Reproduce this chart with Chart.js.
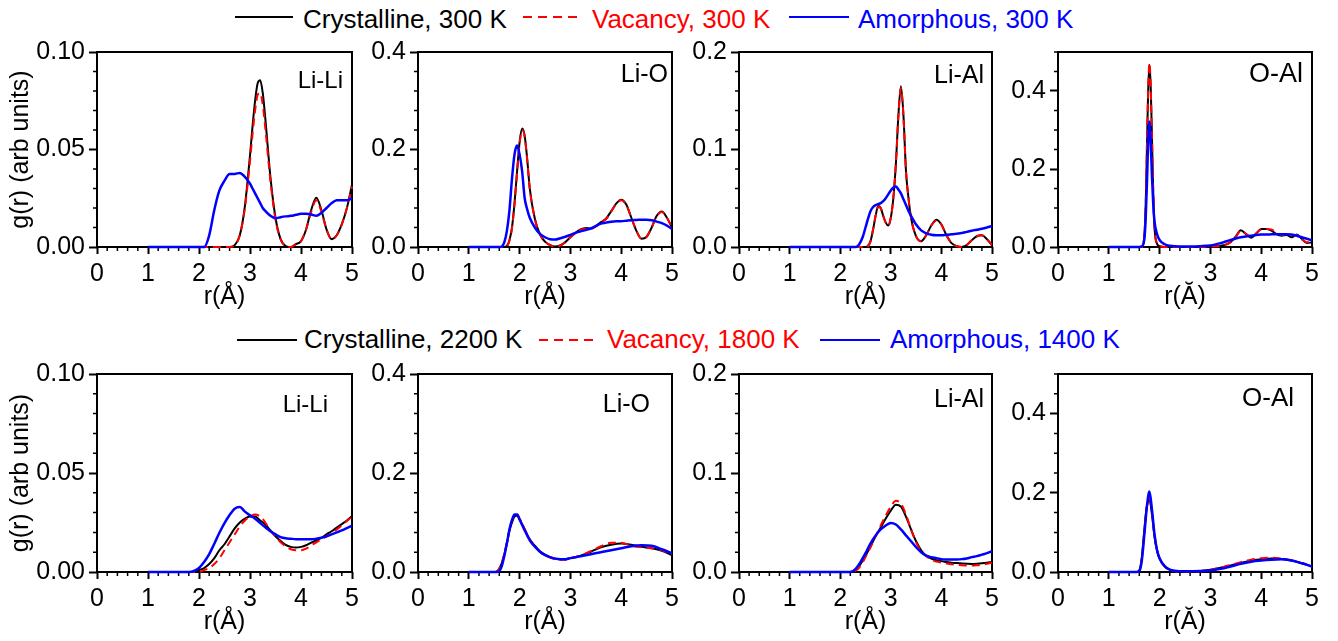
<!DOCTYPE html>
<html>
<head>
<meta charset="utf-8">
<script src="https://cdn.jsdelivr.net/npm/chart.js@4.4.1/dist/chart.umd.min.js"></script>
<style>
  body { margin: 0; background: #fff; width: 1338px; height: 641px; position: relative; overflow: hidden;
         font-family: "Liberation Sans", Arial, sans-serif; }
  canvas { position: absolute; }
  .lg { position: absolute; font-size: 26px; line-height: 26px; white-space: nowrap; }
</style>
</head>
<body>

<!-- legends -->
<svg style="position:absolute;left:0;top:0" width="1338" height="641">
  <line x1="235" y1="17" x2="293" y2="17" stroke="#000" stroke-width="2"/>
  <line x1="523" y1="17" x2="577" y2="17" stroke="#ff0000" stroke-width="2" stroke-dasharray="9 6"/>
  <line x1="789" y1="17" x2="849" y2="17" stroke="#0000ff" stroke-width="2"/>
  <line x1="237" y1="340" x2="297" y2="340" stroke="#000" stroke-width="2"/>
  <line x1="539" y1="340" x2="593" y2="340" stroke="#ff0000" stroke-width="2" stroke-dasharray="9 6"/>
  <line x1="820" y1="340" x2="880" y2="340" stroke="#0000ff" stroke-width="2"/>
</svg>
<div class="lg" style="left:303px;top:6px;color:#000">Crystalline, 300 K</div>
<div class="lg" style="left:592px;top:6px;color:#ff0000">Vacancy, 300 K</div>
<div class="lg" style="left:858px;top:6px;color:#0000ff">Amorphous, 300 K</div>
<div class="lg" style="left:304px;top:326px;color:#000">Crystalline, 2200 K</div>
<div class="lg" style="left:607px;top:326px;color:#ff0000">Vacancy, 1800 K</div>
<div class="lg" style="left:890px;top:326px;color:#0000ff">Amorphous, 1400 K</div>

<script>
// ---- tick labels ----
const xTickVals = [0, 1, 2, 3, 4, 5];
const yTicksLiLi = [0, 0.05, 0.10];
const yLabelsLiLi = ['0.00', '0.05', '0.10'];
const yTicksLiO = [0, 0.2, 0.4];
const yLabelsLiO = ['0.0', '0.2', '0.4'];
const yTicksLiAl = [0, 0.1, 0.2];
const yLabelsLiAl = ['0.0', '0.1', '0.2'];
const yTicksOAl = [0, 0.2, 0.4];
const yLabelsOAl = ['0.0', '0.2', '0.4'];

// ---- 300 K (top row) ----
// Li-Li
const rLiLiA    = [1.0, 2.0, 2.1, 2.2, 2.3, 2.4, 2.5, 2.6, 2.7, 2.8, 2.9, 3.0, 3.05, 3.1, 3.15, 3.2, 3.25, 3.3, 3.4, 3.5, 3.6, 3.7, 3.8, 3.9, 4.0, 4.1, 4.2, 4.3, 4.4, 4.5, 4.6, 4.7, 4.8, 4.9, 5.0];
const crysLiLiA = [0, 0, 0, 0, 0, 0, 0, 0, 0.001, 0.006, 0.021, 0.047, 0.062, 0.075, 0.084, 0.0855, 0.079, 0.066, 0.036, 0.015, 0.004, 0.0005, 0, 0.0015, 0.003, 0.009, 0.019, 0.0253, 0.019, 0.009, 0.004, 0.006, 0.0117, 0.02, 0.032];
const vacLiLiA  = [0, 0, 0, 0, 0, 0, 0, 0, 0.001, 0.006, 0.02, 0.044, 0.058, 0.07, 0.078, 0.079, 0.073, 0.061, 0.034, 0.014, 0.004, 0.0005, 0, 0.0015, 0.003, 0.009, 0.018, 0.024, 0.018, 0.009, 0.004, 0.006, 0.0115, 0.02, 0.031];
const amorLiLiA = [0, 0, 0, 0.006, 0.019, 0.029, 0.034, 0.0375, 0.0375, 0.038, 0.036, 0.0325, 0.03, 0.0275, 0.025, 0.0225, 0.02, 0.0185, 0.016, 0.0148, 0.0153, 0.0157, 0.016, 0.0165, 0.017, 0.017, 0.0167, 0.016, 0.0175, 0.02, 0.0225, 0.024, 0.024, 0.024, 0.025];

// Li-O
const rLiOA    = [1.0, 1.6, 1.65, 1.7, 1.75, 1.8, 1.85, 1.9, 1.95, 2.0, 2.05, 2.1, 2.15, 2.2, 2.3, 2.4, 2.5, 2.6, 2.7, 2.8, 2.9, 3.0, 3.1, 3.2, 3.3, 3.4, 3.5, 3.6, 3.7, 3.8, 3.9, 4.0, 4.1, 4.2, 4.3, 4.4, 4.5, 4.6, 4.7, 4.8, 4.9, 5.0];
const crysLiOA = [0, 0, 0, 0, 0.002, 0.014, 0.04, 0.09, 0.155, 0.215, 0.243, 0.228, 0.18, 0.12, 0.058, 0.026, 0.011, 0.004, 0.001, 0.003, 0.01, 0.02, 0.029, 0.036, 0.039, 0.038, 0.043, 0.051, 0.058, 0.073, 0.089, 0.097, 0.087, 0.06, 0.033, 0.017, 0.021, 0.04, 0.064, 0.073, 0.06, 0.04];
const vacLiOA  = [0, 0, 0, 0, 0.002, 0.013, 0.038, 0.088, 0.152, 0.212, 0.24, 0.226, 0.178, 0.12, 0.058, 0.026, 0.011, 0.004, 0.001, 0.003, 0.01, 0.02, 0.029, 0.035, 0.038, 0.037, 0.042, 0.05, 0.057, 0.072, 0.088, 0.096, 0.086, 0.06, 0.033, 0.017, 0.021, 0.04, 0.063, 0.072, 0.06, 0.04];
const amorLiOA = [0, 0, 0.001, 0.01, 0.033, 0.075, 0.14, 0.19, 0.208, 0.19, 0.155, 0.1, 0.077, 0.06, 0.04, 0.027, 0.02, 0.016, 0.0153, 0.018, 0.021, 0.025, 0.029, 0.032, 0.035, 0.038, 0.043, 0.048, 0.05, 0.052, 0.053, 0.053, 0.054, 0.055, 0.0555, 0.056, 0.056, 0.055, 0.052, 0.049, 0.044, 0.037];

// Li-Al
const rLiAlA    = [1.0, 2.3, 2.35, 2.4, 2.45, 2.5, 2.55, 2.6, 2.65, 2.7, 2.75, 2.8, 2.85, 2.9, 2.95, 3.0, 3.05, 3.1, 3.15, 3.2, 3.25, 3.3, 3.35, 3.4, 3.5, 3.6, 3.7, 3.8, 3.9, 4.0, 4.1, 4.2, 4.3, 4.4, 4.5, 4.6, 4.7, 4.8, 4.9, 5.0];
const crysLiAlA = [0, 0, 0, 0, 0, 0, 0.001, 0.006, 0.018, 0.032, 0.042, 0.04, 0.032, 0.025, 0.022, 0.03, 0.05, 0.085, 0.135, 0.165, 0.135, 0.078, 0.05, 0.03, 0.011, 0.006, 0.012, 0.022, 0.028, 0.023, 0.012, 0.004, 0.001, 0, 0.002, 0.007, 0.011, 0.012, 0.008, 0.002];
const vacLiAlA  = [0, 0, 0, 0, 0, 0, 0.001, 0.006, 0.018, 0.032, 0.041, 0.04, 0.032, 0.025, 0.022, 0.03, 0.05, 0.085, 0.134, 0.163, 0.134, 0.078, 0.05, 0.03, 0.011, 0.006, 0.012, 0.022, 0.027, 0.023, 0.012, 0.004, 0.001, 0, 0.002, 0.007, 0.011, 0.012, 0.008, 0.002];
const amorLiAlA = [0, 0, 0.001, 0.005, 0.011, 0.02, 0.029, 0.037, 0.041, 0.043, 0.044, 0.045, 0.047, 0.05, 0.054, 0.058, 0.061, 0.062, 0.059, 0.055, 0.049, 0.043, 0.037, 0.032, 0.023, 0.017, 0.014, 0.0125, 0.012, 0.012, 0.0125, 0.013, 0.0137, 0.0143, 0.0155, 0.0167, 0.0177, 0.0187, 0.02, 0.0215];

// O-Al
const rOAlA    = [1.0, 1.6, 1.65, 1.7, 1.725, 1.75, 1.775, 1.8, 1.825, 1.85, 1.875, 1.9, 1.95, 2.0, 2.1, 2.2, 2.4, 2.6, 2.8, 3.0, 3.2, 3.3, 3.4, 3.5, 3.6, 3.7, 3.8, 3.9, 4.0, 4.1, 4.2, 4.3, 4.4, 4.5, 4.6, 4.7, 4.8, 4.9, 5.0];
const crysOAlA = [0, 0, 0, 0.03, 0.1, 0.25, 0.4, 0.467, 0.41, 0.28, 0.14, 0.05, 0.008, 0.002, 0, 0, 0, 0, 0, 0.001, 0.003, 0.006, 0.013, 0.027, 0.043, 0.033, 0.024, 0.034, 0.046, 0.046, 0.042, 0.033, 0.029, 0.031, 0.025, 0.032, 0.021, 0.01, 0.012];
const vacOAlA  = [0, 0, 0, 0.03, 0.1, 0.255, 0.405, 0.472, 0.41, 0.28, 0.14, 0.05, 0.008, 0.002, 0, 0, 0, 0, 0, 0.001, 0.003, 0.006, 0.012, 0.026, 0.042, 0.034, 0.026, 0.035, 0.045, 0.046, 0.045, 0.037, 0.031, 0.033, 0.03, 0.03, 0.02, 0.012, 0.013];
const amorOAlA = [0, 0, 0.002, 0.02, 0.07, 0.16, 0.27, 0.322, 0.27, 0.18, 0.11, 0.065, 0.033, 0.018, 0.007, 0.003, 0.001, 0.001, 0.002, 0.004, 0.01, 0.014, 0.018, 0.022, 0.025, 0.027, 0.029, 0.031, 0.032, 0.032, 0.0325, 0.033, 0.033, 0.033, 0.032, 0.029, 0.025, 0.021, 0.017];

// ---- 2200 / 1800 / 1400 K (bottom row) ----
// Li-Li
const rLiLiB    = [1.0, 1.8, 1.9, 2.0, 2.1, 2.2, 2.3, 2.4, 2.5, 2.6, 2.7, 2.8, 2.9, 3.0, 3.1, 3.2, 3.3, 3.4, 3.5, 3.6, 3.7, 3.8, 3.9, 4.0, 4.1, 4.2, 4.3, 4.4, 4.5, 4.6, 4.7, 4.8, 4.9, 5.0];
const crysLiLiB = [0, 0, 0, 0.001, 0.002, 0.004, 0.007, 0.011, 0.014, 0.018, 0.022, 0.025, 0.027, 0.028, 0.028, 0.026, 0.024, 0.021, 0.018, 0.0157, 0.0137, 0.0127, 0.0124, 0.0127, 0.0135, 0.0148, 0.016, 0.0173, 0.019, 0.0206, 0.0224, 0.0242, 0.026, 0.0283];
const vacLiLiB  = [0, 0, 0, 0, 0.001, 0.002, 0.004, 0.007, 0.011, 0.015, 0.019, 0.023, 0.026, 0.028, 0.029, 0.028, 0.025, 0.021, 0.018, 0.015, 0.013, 0.0115, 0.011, 0.011, 0.0118, 0.0135, 0.015, 0.0165, 0.018, 0.0195, 0.0215, 0.0235, 0.0258, 0.028];
const amorLiLiB = [0, 0, 0.0005, 0.002, 0.005, 0.009, 0.0143, 0.0198, 0.0247, 0.0288, 0.032, 0.0328, 0.0305, 0.0286, 0.0269, 0.0247, 0.0226, 0.0206, 0.019, 0.0176, 0.017, 0.0168, 0.0166, 0.0165, 0.0165, 0.0165, 0.0168, 0.0173, 0.018, 0.019, 0.02, 0.021, 0.0222, 0.0234];

// Li-O
const rLiOB    = [1.0, 1.5, 1.55, 1.6, 1.65, 1.7, 1.75, 1.8, 1.85, 1.9, 1.95, 2.0, 2.1, 2.2, 2.3, 2.4, 2.5, 2.6, 2.7, 2.8, 2.9, 3.0, 3.2, 3.4, 3.6, 3.8, 4.0, 4.2, 4.4, 4.6, 4.8, 5.0];
const crysLiOB = [0, 0, 0.001, 0.007, 0.018, 0.036, 0.058, 0.083, 0.1, 0.112, 0.114, 0.106, 0.086, 0.066, 0.053, 0.042, 0.035, 0.03, 0.027, 0.026, 0.026, 0.028, 0.033, 0.041, 0.05, 0.055, 0.0575, 0.055, 0.051, 0.048, 0.043, 0.034];
const vacLiOB  = [0, 0, 0.001, 0.007, 0.019, 0.037, 0.06, 0.086, 0.104, 0.115, 0.117, 0.108, 0.087, 0.066, 0.052, 0.041, 0.034, 0.029, 0.026, 0.025, 0.025, 0.027, 0.033, 0.042, 0.052, 0.059, 0.059, 0.053, 0.05, 0.048, 0.044, 0.036];
const amorLiOB = [0, 0, 0, 0.002, 0.012, 0.033, 0.058, 0.086, 0.105, 0.116, 0.116, 0.106, 0.084, 0.064, 0.051, 0.041, 0.034, 0.03, 0.027, 0.026, 0.026, 0.028, 0.032, 0.036, 0.04, 0.044, 0.048, 0.052, 0.054, 0.053, 0.046, 0.038];

// Li-Al
const rLiAlB    = [1.0, 2.2, 2.3, 2.4, 2.5, 2.6, 2.7, 2.8, 2.9, 3.0, 3.1, 3.2, 3.3, 3.4, 3.5, 3.6, 3.7, 3.8, 3.9, 4.0, 4.1, 4.2, 4.3, 4.4, 4.5, 4.6, 4.7, 4.8, 4.9, 5.0];
const crysLiAlB = [0, 0, 0.002, 0.008, 0.0165, 0.026, 0.036, 0.045, 0.054, 0.062, 0.068, 0.066, 0.056, 0.043, 0.031, 0.022, 0.0165, 0.0135, 0.012, 0.011, 0.0102, 0.0094, 0.009, 0.0087, 0.0084, 0.0082, 0.0084, 0.0088, 0.0094, 0.0102];
const vacLiAlB  = [0, 0, 0.001, 0.006, 0.015, 0.025, 0.036, 0.047, 0.057, 0.066, 0.072, 0.069, 0.058, 0.043, 0.03, 0.021, 0.016, 0.0125, 0.0105, 0.0095, 0.0085, 0.0078, 0.0072, 0.0068, 0.0066, 0.0066, 0.0068, 0.0073, 0.0082, 0.0095];
const amorLiAlB = [0, 0, 0.003, 0.01, 0.019, 0.029, 0.037, 0.043, 0.047, 0.0496, 0.048, 0.043, 0.037, 0.031, 0.025, 0.02, 0.0165, 0.015, 0.014, 0.013, 0.0127, 0.0126, 0.0127, 0.013, 0.0137, 0.015, 0.016, 0.0175, 0.019, 0.021];

// O-Al
const rOAlB    = [1.0, 1.55, 1.6, 1.65, 1.7, 1.75, 1.8, 1.85, 1.9, 1.95, 2.0, 2.1, 2.2, 2.3, 2.5, 2.8, 3.0, 3.2, 3.4, 3.6, 3.8, 4.0, 4.2, 4.4, 4.6, 4.8, 5.0];
const crysOAlB = [0, 0, 0.004, 0.037, 0.108, 0.166, 0.182, 0.145, 0.089, 0.054, 0.033, 0.014, 0.006, 0.0025, 0.001, 0.0025, 0.006, 0.011, 0.0166, 0.023, 0.029, 0.032, 0.034, 0.033, 0.029, 0.022, 0.014];
const vacOAlB  = [0, 0, 0.003, 0.033, 0.103, 0.165, 0.186, 0.15, 0.092, 0.055, 0.033, 0.014, 0.006, 0.002, 0.001, 0.002, 0.005, 0.011, 0.018, 0.025, 0.031, 0.035, 0.036, 0.034, 0.029, 0.022, 0.014];
const amorOAlB = [0, 0, 0.002, 0.029, 0.095, 0.166, 0.203, 0.157, 0.095, 0.055, 0.035, 0.015, 0.006, 0.003, 0.0017, 0.0025, 0.004, 0.008, 0.014, 0.021, 0.026, 0.029, 0.031, 0.032, 0.029, 0.022, 0.014];

const FONT = '"Liberation Sans", Arial, sans-serif';
Chart.defaults.font.family = FONT;
Chart.defaults.color = '#000';

// frame box and minor ticks go under the curves, the panel name on top
const framePlugin = {
  id: 'frame',
  beforeDatasetsDraw(chart, args, o) {
    const ctx = chart.ctx, a = chart.chartArea;
    const xs = chart.scales.x, ys = chart.scales.y;
    ctx.save();
    ctx.strokeStyle = '#000';
    ctx.lineWidth = 1.5;
    ctx.beginPath();
    for (let i = 0; i <= o.xCount; i++) {
      if (i % o.xEvery === 0) continue;
      const px = xs.getPixelForValue(i * o.xMinor);
      ctx.moveTo(px, a.bottom);
      ctx.lineTo(px, a.bottom + 4);
    }
    for (let i = 0; i <= o.yCount; i++) {
      if (i % o.yEvery === 0) continue;
      const py = ys.getPixelForValue(i * o.yMinor);
      ctx.moveTo(a.left, py);
      ctx.lineTo(a.left - 4, py);
    }
    ctx.stroke();
    ctx.lineWidth = 2;
    ctx.strokeRect(a.left, a.top, a.right - a.left, a.bottom - a.top);
    ctx.restore();
  },
  afterDraw(chart, args, o) {
    const ctx = chart.ctx, a = chart.chartArea;
    ctx.save();
    ctx.font = o.size + 'px ' + FONT;
    ctx.fillStyle = '#000';
    ctx.textAlign = 'right';
    ctx.textBaseline = 'alphabetic';
    ctx.fillText(o.label, a.right - o.dx, a.top + o.dy);
    ctx.restore();
  }
};

const panels = [
  { r: rLiLiA, crys: crysLiLiA, vac: vacLiLiA, amor: amorLiLiA, yMax: 0.1, yTicks: yTicksLiLi, yLabels: yLabelsLiLi,
    yMinor: 0.01, yEvery: 5, label: 'Li-Li', dx: 9, dy: 36, size: 24, xTitle: 'r(Å)', first: true,
    left: 97, top: 47, w: 255, h: 200 },
  { r: rLiOA, crys: crysLiOA, vac: vacLiOA, amor: amorLiOA, yMax: 0.4, yTicks: yTicksLiO, yLabels: yLabelsLiO,
    yMinor: 0.04, yEvery: 5, label: 'Li-O', dx: 4, dy: 30, size: 25, xTitle: 'r(Å)',
    left: 418, top: 47, w: 254, h: 200 },
  { r: rLiAlA, crys: crysLiAlA, vac: vacLiAlA, amor: amorLiAlA, yMax: 0.2, yTicks: yTicksLiAl, yLabels: yLabelsLiAl,
    yMinor: 0.02, yEvery: 5, label: 'Li-Al', dx: 8, dy: 31, size: 25, xTitle: 'r(Å)',
    left: 739, top: 47, w: 253, h: 200 },
  { r: rOAlA, crys: crysOAlA, vac: vacOAlA, amor: amorOAlA, yMax: 0.5, yTicks: yTicksOAl, yLabels: yLabelsOAl,
    yMinor: 0.05, yEvery: 4, label: 'O-Al', dx: 9, dy: 30, size: 27, xTitle: 'r(Ă)',
    left: 1058, top: 47, w: 254, h: 200 },
  { r: rLiLiB, crys: crysLiLiB, vac: vacLiLiB, amor: amorLiLiB, yMax: 0.1, yTicks: yTicksLiLi, yLabels: yLabelsLiLi,
    yMinor: 0.01, yEvery: 5, label: 'Li-Li', dx: 24, dy: 38, size: 24, xTitle: 'r(Å)', first: true,
    left: 97, top: 369, w: 255, h: 203 },
  { r: rLiOB, crys: crysLiOB, vac: vacLiOB, amor: amorLiOB, yMax: 0.4, yTicks: yTicksLiO, yLabels: yLabelsLiO,
    yMinor: 0.04, yEvery: 5, label: 'Li-O', dx: 22, dy: 38, size: 25, xTitle: 'r(Å)',
    left: 418, top: 369, w: 254, h: 203 },
  { r: rLiAlB, crys: crysLiAlB, vac: vacLiAlB, amor: amorLiAlB, yMax: 0.2, yTicks: yTicksLiAl, yLabels: yLabelsLiAl,
    yMinor: 0.02, yEvery: 5, label: 'Li-Al', dx: 8, dy: 33, size: 25, xTitle: 'r(Å)',
    left: 739, top: 369, w: 253, h: 203 },
  { r: rOAlB, crys: crysOAlB, vac: vacOAlB, amor: amorOAlB, yMax: 0.5, yTicks: yTicksOAl, yLabels: yLabelsOAl,
    yMinor: 0.05, yEvery: 4, label: 'O-Al', dx: 18, dy: 32, size: 26, xTitle: 'r(Ă)',
    left: 1058, top: 369, w: 254, h: 203 }
];

function addPanel(p) {
  const pt = 14, pr = 14, xh = 70;
  const yw = p.first ? p.left : 70;
  const cv = document.createElement('canvas');
  cv.width = yw + p.w + pr;
  cv.height = pt + p.h + xh;
  cv.style.left = (p.left - yw) + 'px';
  cv.style.top = (p.top - pt) + 'px';
  document.body.appendChild(cv);

  const pts = vals => p.r.map((x, i) => ({ x: x, y: vals[i] }));

  new Chart(cv, {
    type: 'line',
    data: {
      datasets: [
        { label: 'Amorphous', data: pts(p.amor), borderColor: '#0000ff', borderWidth: 2.5, order: 1, clip: 4 },
        { label: 'Vacancy', data: pts(p.vac), borderColor: '#ff0000', borderWidth: 2, borderDash: [8, 5], order: 2, clip: 4 },
        { label: 'Crystalline', data: pts(p.crys), borderColor: '#000000', borderWidth: 2, order: 3, clip: 4 }
      ]
    },
    options: {
      responsive: false,
      devicePixelRatio: 1,
      animation: false,
      layout: { padding: { top: pt, right: pr, left: 0, bottom: 0 } },
      elements: {
        point: { radius: 0 },
        line: { cubicInterpolationMode: 'monotone', fill: false }
      },
      plugins: {
        legend: { display: false },
        tooltip: { enabled: false },
        frame: { xMinor: 0.2, xCount: 25, xEvery: 5, yMinor: p.yMinor, yCount: Math.round(p.yMax / p.yMinor),
                 yEvery: p.yEvery, label: p.label, dx: p.dx, dy: p.dy, size: p.size }
      },
      scales: {
        x: {
          type: 'linear', min: 0, max: 5,
          afterBuildTicks: s => { s.ticks = xTickVals.map(v => ({ value: v })); },
          afterFit: s => { s.height = xh; },
          ticks: { font: { size: 25 }, color: '#000', padding: 5, maxRotation: 0, autoSkip: false,
                   callback: (v, i) => String(xTickVals[i]) },
          grid: { drawOnChartArea: false, tickLength: 7, tickWidth: 2, tickColor: '#000' },
          border: { display: false },
          title: { display: true, text: p.xTitle, font: { size: 25 }, color: '#000', padding: { top: 0, bottom: 5 } }
        },
        y: {
          type: 'linear', min: 0, max: p.yMax,
          afterBuildTicks: s => { s.ticks = p.yTicks.map(v => ({ value: v })); },
          afterFit: s => { s.width = yw; },
          ticks: { font: { size: 25 }, color: '#000', padding: 4, autoSkip: false,
                   callback: (v, i) => p.yLabels[i] },
          grid: { drawOnChartArea: false, tickLength: 8, tickWidth: 2, tickColor: '#000' },
          border: { display: false },
          title: { display: !!p.first, text: 'g(r) (arb units)', font: { size: 25 }, color: '#000',
                   padding: { top: 6, bottom: 0 } }
        }
      }
    },
    plugins: [framePlugin]
  });
}

panels.forEach(addPanel);
</script>
</body>
</html>
